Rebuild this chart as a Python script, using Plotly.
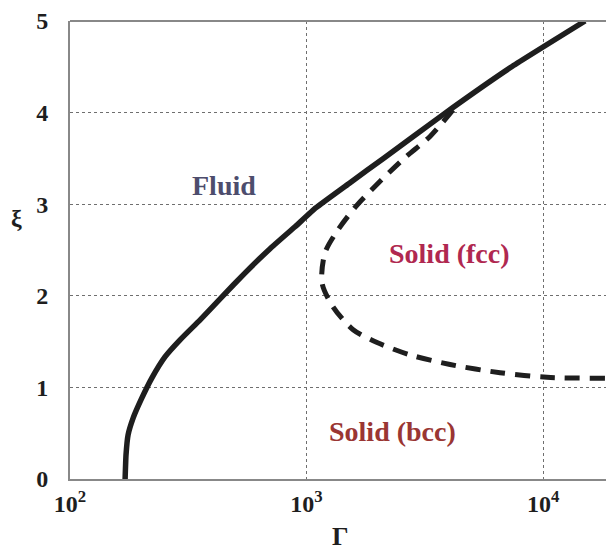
import math
import plotly.graph_objects as go

# Fluid / solid phase boundary (solid line)
melt_gamma = [171, 172.5, 176, 185, 199.5, 222, 252, 292, 355, 439, 550, 701, 894, 1097, 1528, 2106, 3777, 7396, 15050]
melt_xi = [0.0, 0.262, 0.481, 0.667, 0.863, 1.104, 1.333, 1.519, 1.738, 1.989, 2.251, 2.514, 2.754, 2.962, 3.235, 3.497, 3.978, 4.503, 5.0]

# fcc / bcc boundary (dashed line)
fcc_gamma = [4160, 3327, 2610, 2046, 1635, 1358, 1197, 1163, 1294, 1574, 1987, 2739, 4045, 6580, 10400, 18450]
fcc_xi = [4.03, 3.74, 3.51, 3.25, 2.99, 2.72, 2.47, 2.14, 1.88, 1.63, 1.49, 1.355, 1.25, 1.16, 1.11, 1.10]

x_tickvals = [100, 1000, 10000]
x_ticktext = ["10<sup>2</sup>", "10<sup>3</sup>", "10<sup>4</sup>"]
y_tickvals = [0, 1, 2, 3, 4, 5]

region_labels = ["Fluid", "Solid (fcc)", "Solid (bcc)"]
region_gamma = [448, 4004, 2299]
region_xi = [3.20, 2.46, 0.514]
region_colors = ["#4d4d6d", "#b02850", "#9a3633"]

serif = "Liberation Serif"
ink = "#1e1e1e"

fig = go.Figure()
fig.add_trace(go.Scatter(
    x=melt_gamma, y=melt_xi, mode="lines",
    line=dict(color=ink, width=5.5, shape="spline", smoothing=0.4),
    hoverinfo="skip", showlegend=False,
))
fig.add_trace(go.Scatter(
    x=fcc_gamma, y=fcc_xi, mode="lines",
    line=dict(color=ink, width=5, dash="15px,10px", shape="spline", smoothing=0.8),
    hoverinfo="skip", showlegend=False,
))

# region names (annotation x on a log axis is given in log10 units)
for txt, gx, gy, col in zip(region_labels, region_gamma, region_xi, region_colors):
    fig.add_annotation(
        x=math.log10(gx), y=gy, xref="x", yref="y", text=f"<b>{txt}</b>", showarrow=False,
        font=dict(family=serif, size=28, color=col),
    )

# axis titles
fig.add_annotation(
    x=-0.099, y=0.57, xref="paper", yref="paper", text="<b>ξ</b>", showarrow=False,
    font=dict(family=serif, size=24, color=ink), xanchor="center", yanchor="middle",
)
fig.add_annotation(
    x=0.505, y=-0.09, xref="paper", yref="paper", text="<b>Γ</b>", showarrow=False,
    font=dict(family=serif, size=26, color=ink), xanchor="center", yanchor="top",
)

fig.update_layout(
    width=606, height=548,
    margin=dict(l=70, r=0, t=21, b=69),
    paper_bgcolor="white", plot_bgcolor="white",
    showlegend=False,
)
fig.update_xaxes(
    type="log", range=[2, 4.266],
    tickvals=x_tickvals, ticktext=[f"<b>{t}</b>" for t in x_ticktext],
    tickfont=dict(family=serif, size=24, color=ink),
    showgrid=True, gridcolor="#6f6f6f", gridwidth=1, griddash="dot",
    showline=True, linecolor="#888888", linewidth=2, mirror=False,
    zeroline=False, ticks="", ticklabelstandoff=2,
)
fig.update_yaxes(
    range=[0, 5],
    tickvals=y_tickvals, ticktext=[f"<b>{v}</b>" for v in y_tickvals],
    tickfont=dict(family=serif, size=24, color=ink),
    showgrid=True, gridcolor="#6f6f6f", gridwidth=1, griddash="dot",
    showline=True, linecolor="#888888", linewidth=2,
    zeroline=False, ticks="", ticklabelstandoff=15,
)
# top frame line
fig.add_shape(type="line", xref="paper", yref="paper", x0=0, x1=1, y0=1, y1=1,
              line=dict(color="#888888", width=2))

fig.write_html("out.html")
